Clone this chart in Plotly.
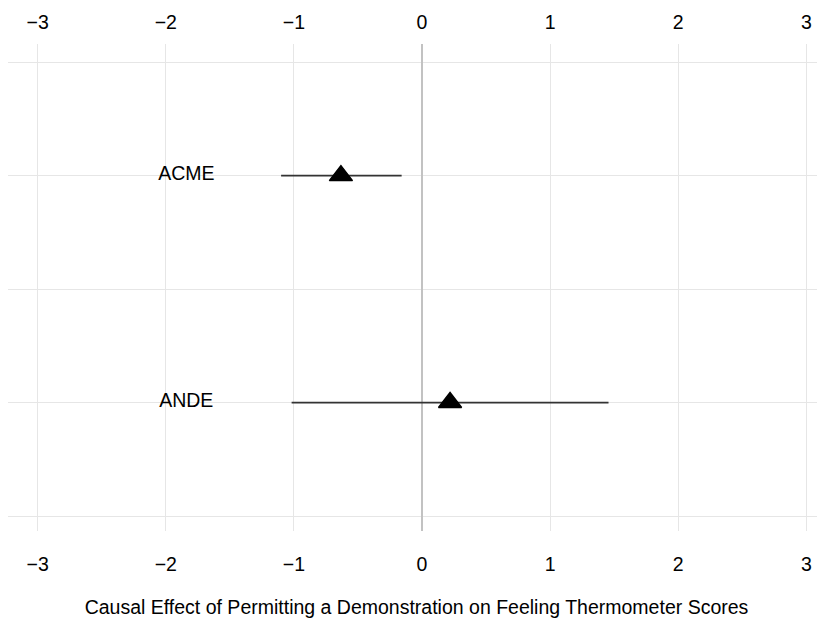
import plotly.graph_objects as go

categories = ["ACME", "ANDE"]
estimates = [-0.633, 0.219]
ci_low = [-1.10, -1.018]
ci_high = [-0.159, 1.456]
x_ticks = [-3, -2, -1, 0, 1, 2, 3]
x_tick_labels = ["\u22123", "\u22122", "\u22121", "0", "1", "2", "3"]
x_title = "Causal Effect of Permitting a Demonstration on Feeling Thermometer Scores"

n = len(categories)
ypos = [n - i for i in range(n)]
err_plus = [h - e for h, e in zip(ci_high, estimates)]
err_minus = [e - l for e, l in zip(estimates, ci_low)]

FONT = "Liberation Sans, Arial, Helvetica, sans-serif"
FS = 19.5
LABEL_X = -1.84

fig = go.Figure()
fig.add_trace(go.Scatter(
    x=estimates, y=ypos, mode="markers",
    marker=dict(symbol="triangle-up", size=20, color="black",
                line=dict(color="black", width=1.5)),
    error_x=dict(type="data", symmetric=False, array=err_plus,
                 arrayminus=err_minus, width=0, thickness=1.7, color="#333"),
    showlegend=False, hoverinfo="skip",
))
fig.add_trace(go.Scatter(
    x=[LABEL_X] * n, y=ypos, mode="text", text=categories,
    textposition="middle center",
    textfont=dict(family=FONT, size=FS, color="black"),
    showlegend=False, hoverinfo="skip",
))
fig.add_trace(go.Scatter(
    x=estimates, y=ypos, xaxis="x2", mode="markers",
    marker=dict(opacity=0), showlegend=False, hoverinfo="skip",
))

xr = [-3.232, 3.146]
fig.update_layout(
    width=817, height=611,
    margin=dict(l=0, r=0, t=36, b=88),
    plot_bgcolor="white", paper_bgcolor="white",
    font=dict(family=FONT, size=FS, color="black"),
    xaxis=dict(range=xr, tickvals=x_ticks, ticktext=x_tick_labels,
               showgrid=True, gridcolor="#e6e6e6", gridwidth=1.2,
               zeroline=True, zerolinecolor="#c2c2c2", zerolinewidth=1.6,
               showline=False, ticks="", ticklabelstandoff=19,
               tickfont=dict(size=FS),
               title=dict(text=x_title, font=dict(size=FS), standoff=26)),
    xaxis2=dict(range=xr, tickvals=x_ticks, ticktext=x_tick_labels,
                overlaying="x", side="top", anchor="y",
                showgrid=False, zeroline=False, showline=False, ticks="",
                ticklabelstandoff=10, tickfont=dict(size=FS)),
    yaxis=dict(range=[0.434, 2.58], tickvals=[0.5, 1, 1.5, 2, 2.5],
               showticklabels=False, showgrid=True, gridcolor="#e6e6e6",
               gridwidth=1.2, zeroline=False, showline=False, ticks=""),
)

fig.write_html("out.html")
